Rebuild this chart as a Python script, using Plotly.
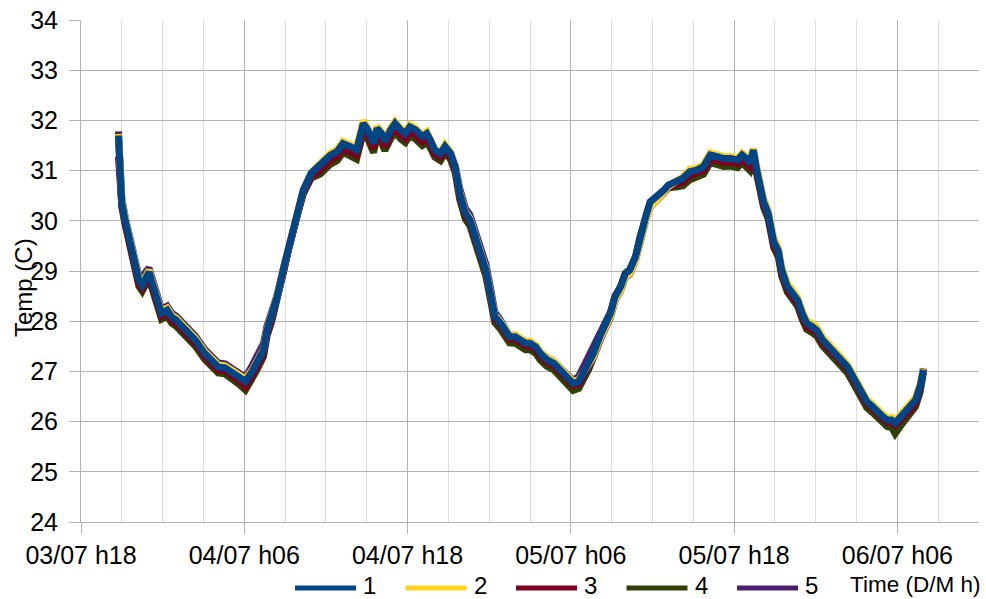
import pandas as pd
import plotly.graph_objects as go

YEAR = 2015

# Sample times (day/month hour:minute)
time_labels = [
    "03/07 20:45", "03/07 20:50", "03/07 21:00", "03/07 21:15", "03/07 21:35", "03/07 22:00",
    "03/07 22:15", "03/07 22:30", "03/07 22:45", "03/07 23:00", "03/07 23:10", "03/07 23:35",
    "03/07 23:55", "04/07 00:20", "04/07 00:40", "04/07 01:00", "04/07 01:40", "04/07 02:25",
    "04/07 03:05", "04/07 03:35", "04/07 04:05", "04/07 04:35", "04/07 05:05", "04/07 05:35",
    "04/07 06:05", "04/07 06:35", "04/07 06:55", "04/07 07:25", "04/07 07:40", "04/07 08:00",
    "04/07 08:25", "04/07 08:55", "04/07 09:15", "04/07 09:35", "04/07 10:00", "04/07 10:20",
    "04/07 10:55", "04/07 11:35", "04/07 11:55", "04/07 12:20", "04/07 12:50", "04/07 13:15",
    "04/07 13:45", "04/07 14:15", "04/07 14:45", "04/07 15:05", "04/07 15:30", "04/07 15:45",
    "04/07 16:05", "04/07 16:20", "04/07 16:45", "04/07 17:05", "04/07 17:30", "04/07 17:50",
    "04/07 18:10", "04/07 18:35", "04/07 19:05", "04/07 19:25", "04/07 19:40", "04/07 20:00",
    "04/07 20:25", "04/07 20:45", "04/07 21:10", "04/07 21:30", "04/07 21:50", "04/07 22:15",
    "04/07 22:35", "04/07 23:00", "04/07 23:20", "04/07 23:45", "05/07 00:05", "05/07 00:25",
    "05/07 00:50", "05/07 01:10", "05/07 01:30", "05/07 01:55", "05/07 02:15", "05/07 02:40",
    "05/07 03:00", "05/07 03:25", "05/07 03:45", "05/07 04:15", "05/07 04:45", "05/07 05:15",
    "05/07 05:45", "05/07 06:10", "05/07 06:35", "05/07 06:55", "05/07 07:20", "05/07 07:40",
    "05/07 08:10", "05/07 08:30", "05/07 08:55", "05/07 09:15", "05/07 09:40", "05/07 10:00",
    "05/07 10:20", "05/07 10:45", "05/07 11:05", "05/07 11:30", "05/07 11:50", "05/07 12:20",
    "05/07 12:50", "05/07 13:10", "05/07 13:50", "05/07 14:15", "05/07 14:45", "05/07 15:15",
    "05/07 15:45", "05/07 16:15", "05/07 16:45", "05/07 17:15", "05/07 17:45", "05/07 18:15",
    "05/07 18:35", "05/07 18:55", "05/07 19:10", "05/07 19:25", "05/07 19:40", "05/07 19:55",
    "05/07 20:10", "05/07 20:30", "05/07 20:55", "05/07 21:15", "05/07 21:30", "05/07 21:55",
    "05/07 22:15", "05/07 22:40", "05/07 23:00", "05/07 23:20", "05/07 23:45", "06/07 00:05",
    "06/07 00:30", "06/07 00:50", "06/07 01:10", "06/07 01:35", "06/07 01:55", "06/07 02:20",
    "06/07 02:40", "06/07 03:00", "06/07 03:25", "06/07 03:45", "06/07 04:10", "06/07 04:30",
    "06/07 04:55", "06/07 05:15", "06/07 05:35", "06/07 05:50", "06/07 06:15", "06/07 06:35",
    "06/07 07:00", "06/07 07:20", "06/07 07:40", "06/07 07:55",
]

temp_1 = [
    31.70, 31.00, 30.35, 30.00, 29.56, 29.02, 28.82, 28.72, 28.88, 28.98, 28.82, 28.42,
    28.16, 28.22, 28.08, 28.02, 27.82, 27.62, 27.36, 27.22, 27.09, 27.07, 26.99, 26.89,
    26.80, 27.00, 27.16, 27.43, 27.82, 28.09, 28.49, 29.09, 29.48, 29.88, 30.28, 30.61,
    30.95, 31.11, 31.21, 31.31, 31.38, 31.54, 31.48, 31.41, 31.94, 31.81, 31.54, 31.84,
    31.74, 31.58, 31.81, 31.94, 31.81, 31.74, 31.87, 31.81, 31.68, 31.74, 31.61, 31.41,
    31.34, 31.48, 31.34, 31.08, 30.55, 30.15, 30.02, 29.68, 29.42, 29.02, 28.56, 28.09,
    27.96, 27.82, 27.69, 27.69, 27.63, 27.56, 27.56, 27.49, 27.36, 27.23, 27.16, 27.03,
    26.89, 26.76, 26.80, 26.96, 27.16, 27.36, 27.72, 27.89, 28.16, 28.49, 28.69, 28.95,
    29.02, 29.28, 29.68, 30.08, 30.38, 30.48, 30.61, 30.71, 30.78, 30.85, 30.98, 31.01,
    31.08, 31.31, 31.28, 31.24, 31.24, 31.21, 31.31, 31.24, 31.14, 31.41, 31.01, 30.68,
    30.38, 30.15, 29.58, 29.40, 29.02, 28.69, 28.56, 28.42, 28.16, 27.96, 27.89, 27.82,
    27.63, 27.53, 27.43, 27.29, 27.23, 27.09, 26.93, 26.76, 26.50, 26.40, 26.30, 26.20,
    26.10, 26.03, 26.03, 25.97, 26.10, 26.20, 26.30, 26.43, 26.70, 27.03,
]

temp_2 = [
    31.73, 31.05, 30.42, 30.06, 29.62, 29.08, 28.86, 28.76, 28.92, 29.02, 28.86, 28.46,
    28.20, 28.26, 28.12, 28.06, 27.86, 27.66, 27.40, 27.26, 27.13, 27.11, 27.03, 26.93,
    26.85, 27.03, 27.19, 27.45, 27.84, 28.11, 28.50, 29.10, 29.49, 29.89, 30.29, 30.62,
    30.96, 31.15, 31.25, 31.35, 31.42, 31.58, 31.52, 31.45, 32.00, 31.85, 31.58, 31.88,
    31.78, 31.62, 31.85, 31.98, 31.85, 31.78, 31.91, 31.85, 31.72, 31.78, 31.64, 31.44,
    31.37, 31.52, 31.37, 31.11, 30.58, 30.18, 30.05, 29.71, 29.45, 29.05, 28.59, 28.12,
    27.99, 27.86, 27.73, 27.73, 27.67, 27.60, 27.60, 27.53, 27.40, 27.27, 27.20, 27.07,
    26.93, 26.80, 26.83, 26.98, 27.12, 27.30, 27.66, 27.83, 28.10, 28.42, 28.62, 28.88,
    28.95, 29.20, 29.60, 30.00, 30.28, 30.40, 30.56, 30.68, 30.78, 30.88, 31.03, 31.05,
    31.12, 31.36, 31.32, 31.28, 31.28, 31.25, 31.35, 31.28, 31.18, 31.44, 31.10, 30.76,
    30.45, 30.22, 29.66, 29.47, 29.09, 28.76, 28.63, 28.48, 28.22, 28.02, 27.95, 27.88,
    27.69, 27.59, 27.48, 27.34, 27.28, 27.14, 26.98, 26.81, 26.55, 26.45, 26.35, 26.25,
    26.15, 26.08, 26.08, 26.02, 26.15, 26.25, 26.35, 26.48, 26.74, 27.05,
]

temp_3 = [
    31.28, 30.95, 30.30, 29.94, 29.50, 28.95, 28.76, 28.66, 28.82, 28.92, 28.76, 28.36,
    28.10, 28.16, 28.02, 27.96, 27.76, 27.56, 27.30, 27.16, 27.03, 27.01, 26.93, 26.82,
    26.70, 26.92, 27.08, 27.36, 27.74, 28.02, 28.43, 29.03, 29.43, 29.83, 30.22, 30.55,
    30.88, 31.01, 31.11, 31.21, 31.28, 31.44, 31.38, 31.31, 31.84, 31.71, 31.44, 31.74,
    31.64, 31.48, 31.71, 31.84, 31.71, 31.64, 31.77, 31.71, 31.58, 31.64, 31.53, 31.34,
    31.27, 31.42, 31.28, 31.03, 30.51, 30.11, 29.98, 29.64, 29.38, 28.98, 28.52, 28.05,
    27.92, 27.78, 27.64, 27.64, 27.58, 27.51, 27.51, 27.44, 27.31, 27.18, 27.11, 26.98,
    26.84, 26.72, 26.75, 26.90, 27.08, 27.28, 27.64, 27.81, 28.08, 28.41, 28.61, 28.87,
    28.94, 29.20, 29.60, 30.00, 30.28, 30.40, 30.55, 30.66, 30.72, 30.78, 30.90, 30.94,
    31.01, 31.23, 31.20, 31.16, 31.17, 31.14, 31.24, 31.17, 31.08, 31.30, 30.96, 30.62,
    30.32, 30.10, 29.52, 29.34, 28.96, 28.63, 28.50, 28.36, 28.10, 27.90, 27.83, 27.77,
    27.58, 27.48, 27.39, 27.25, 27.19, 27.05, 26.89, 26.72, 26.46, 26.36, 26.26, 26.16,
    26.06, 25.99, 25.99, 25.93, 26.04, 26.14, 26.24, 26.38, 26.66, 27.06,
]

temp_4 = [
    31.74, 31.00, 30.28, 29.92, 29.47, 28.92, 28.70, 28.60, 28.76, 28.86, 28.70, 28.30,
    28.04, 28.10, 27.96, 27.90, 27.70, 27.50, 27.24, 27.10, 26.97, 26.95, 26.86, 26.75,
    26.63, 26.85, 27.02, 27.30, 27.70, 27.98, 28.40, 29.02, 29.42, 29.82, 30.22, 30.54,
    30.85, 30.93, 31.03, 31.13, 31.20, 31.36, 31.30, 31.23, 31.76, 31.63, 31.36, 31.66,
    31.56, 31.40, 31.63, 31.76, 31.63, 31.56, 31.69, 31.63, 31.50, 31.56, 31.46, 31.27,
    31.20, 31.36, 31.22, 30.96, 30.43, 30.03, 29.90, 29.56, 29.30, 28.90, 28.44, 27.97,
    27.84, 27.70, 27.57, 27.56, 27.50, 27.43, 27.43, 27.36, 27.23, 27.10, 27.03, 26.90,
    26.76, 26.62, 26.66, 26.82, 27.05, 27.28, 27.68, 27.87, 28.15, 28.48, 28.69, 28.95,
    29.03, 29.28, 29.68, 30.08, 30.36, 30.46, 30.58, 30.66, 30.68, 30.70, 30.82, 30.86,
    30.93, 31.16, 31.13, 31.08, 31.09, 31.06, 31.16, 31.09, 31.00, 31.24, 30.90, 30.56,
    30.27, 30.04, 29.46, 29.28, 28.90, 28.58, 28.45, 28.30, 28.04, 27.84, 27.77, 27.70,
    27.51, 27.41, 27.31, 27.17, 27.11, 26.97, 26.81, 26.64, 26.38, 26.28, 26.18, 26.08,
    25.97, 25.90, 25.88, 25.76, 25.92, 26.04, 26.16, 26.30, 26.58, 26.98,
]

temp_5 = [
    31.78, 31.10, 30.45, 30.08, 29.64, 29.10, 28.90, 28.80, 28.98, 29.06, 28.90, 28.50,
    28.24, 28.30, 28.16, 28.10, 27.90, 27.70, 27.44, 27.30, 27.17, 27.15, 27.07, 26.97,
    26.88, 27.12, 27.30, 27.56, 27.90, 28.14, 28.52, 29.10, 29.48, 29.86, 30.24, 30.56,
    30.88, 31.03, 31.13, 31.23, 31.30, 31.46, 31.40, 31.33, 31.86, 31.73, 31.46, 31.76,
    31.66, 31.50, 31.73, 31.86, 31.73, 31.66, 31.79, 31.73, 31.60, 31.66, 31.54, 31.35,
    31.28, 31.43, 31.30, 31.10, 30.65, 30.25, 30.12, 29.80, 29.54, 29.14, 28.68, 28.18,
    28.02, 27.86, 27.72, 27.72, 27.66, 27.59, 27.59, 27.52, 27.39, 27.27, 27.20, 27.08,
    26.95, 26.82, 26.90, 27.08, 27.28, 27.46, 27.78, 27.93, 28.18, 28.50, 28.69, 28.94,
    29.00, 29.25, 29.64, 30.04, 30.33, 30.44, 30.57, 30.67, 30.73, 30.80, 30.92, 30.96,
    31.03, 31.25, 31.22, 31.18, 31.19, 31.16, 31.26, 31.19, 31.10, 31.34, 31.02, 30.68,
    30.38, 30.15, 29.58, 29.40, 29.02, 28.69, 28.56, 28.42, 28.16, 27.96, 27.89, 27.82,
    27.63, 27.53, 27.43, 27.29, 27.23, 27.09, 26.93, 26.76, 26.50, 26.40, 26.30, 26.20,
    26.10, 26.03, 26.03, 25.97, 26.08, 26.18, 26.28, 26.42, 26.68, 27.02,
]

series_names = ["1", "2", "3", "4", "5"]
series_values = [temp_1, temp_2, temp_3, temp_4, temp_5]
series_colors = ["#004586", "#ffd320", "#7e0021", "#314004", "#4b1f6f"]

x_title = "Time (D/M h)"
y_title = "Temp (C)"

times = pd.to_datetime([f"{t} {YEAR}" for t in time_labels], format="%d/%m %H:%M %Y")

FIG_W, FIG_H = 986, 599
M_L, M_R, M_T, M_B = 81, 7, 20, 77
PLOT_W = FIG_W - M_L - M_R
PLOT_H = FIG_H - M_T - M_B
FONT = "Liberation Sans"
GRID = "#b3b3b3"
MINOR_GRID = "#dddddd"


def px_to_paper(px, py):
    return (px - M_L) / PLOT_W, (FIG_H - M_B - py) / PLOT_H


fig = go.Figure()

# later series underneath, series 1 drawn last (on top)
for name, vals, color in reversed(list(zip(series_names, series_values, series_colors))):
    fig.add_trace(go.Scatter(
        x=times, y=vals, mode="lines", name=name,
        line=dict(color=color, width=7),
        showlegend=False,
    ))

# legend row below the axis: long line samples followed by the series name
shapes = []
annotations = []
for i, (name, color) in enumerate(zip(series_names, series_colors)):
    x0 = 295 + i * 110.5
    ax0, ay = px_to_paper(x0, 588)
    ax1, _ = px_to_paper(x0 + 61, 588)
    shapes.append(dict(type="line", xref="paper", yref="paper",
                       x0=ax0, x1=ax1, y0=ay, y1=ay,
                       line=dict(color=color, width=5)))
    tx, ty = px_to_paper(x0 + 66, 585)
    annotations.append(dict(text=name, xref="paper", yref="paper", x=tx, y=ty,
                            xanchor="left", yanchor="middle", showarrow=False,
                            font=dict(family=FONT, size=24, color="black")))

tx, ty = px_to_paper(982, 584)
annotations.append(dict(text=x_title, xref="paper", yref="paper", x=tx, y=ty,
                        xanchor="right", yanchor="middle", showarrow=False,
                        font=dict(family=FONT, size=22.5, color="black")))
tx, ty = px_to_paper(23, 287)
annotations.append(dict(text=y_title, xref="paper", yref="paper", x=tx, y=ty,
                        xanchor="center", yanchor="middle", showarrow=False,
                        textangle=-90,
                        font=dict(family=FONT, size=24, color="black")))

fig.update_layout(
    width=FIG_W, height=FIG_H,
    margin=dict(l=M_L, r=M_R, t=M_T, b=M_B, pad=0),
    paper_bgcolor="white", plot_bgcolor="white",
    font=dict(family=FONT, size=25, color="black"),
    shapes=shapes, annotations=annotations,
    showlegend=False,
)

fig.update_xaxes(
    type="date",
    range=[f"{YEAR}-07-03 18:00", f"{YEAR}-07-06 12:00"],
    tick0=f"{YEAR}-07-03 18:00", dtick=12 * 3600 * 1000,
    tickformat="%d/%m h%H",
    ticks="outside", ticklen=11, tickcolor=GRID, tickwidth=1,
    showline=True, linecolor=GRID, linewidth=1,
    showgrid=True, gridcolor=GRID, gridwidth=1,
    minor=dict(dtick=3 * 3600 * 1000, showgrid=True, gridcolor=MINOR_GRID, ticks=""),
    zeroline=False,
    tickfont=dict(family=FONT, size=25, color="black"),
)
fig.update_yaxes(
    range=[24, 34], dtick=1, tick0=24,
    ticks="outside", ticklen=11, tickcolor=GRID, tickwidth=1,
    showline=True, linecolor=GRID, linewidth=1,
    showgrid=True, gridcolor=GRID, gridwidth=1,
    zeroline=False,
    ticklabelstandoff=6,
    tickfont=dict(family=FONT, size=25, color="black"),
)

fig.write_html("out.html")
